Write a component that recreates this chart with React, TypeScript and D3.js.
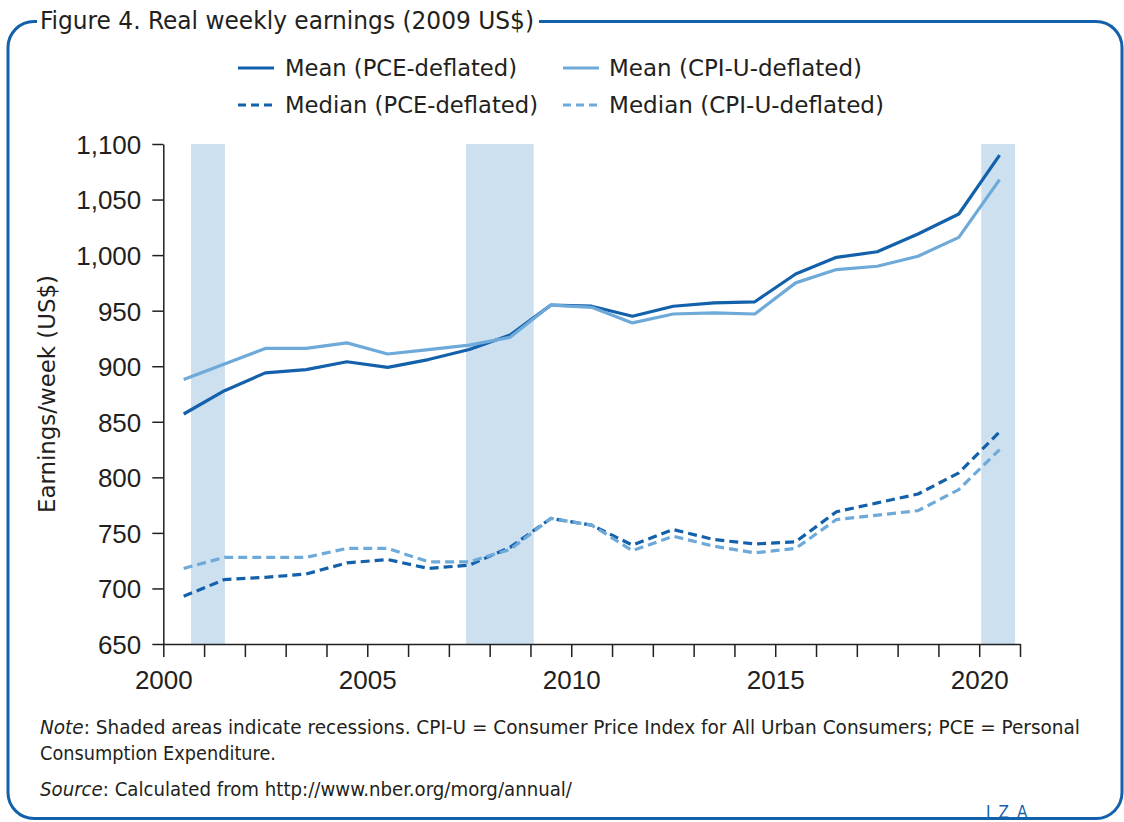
import React, { useEffect, useRef } from 'react';
import * as d3 from 'd3';

// yearly values, plotted at mid-year
const years = [2000, 2001, 2002, 2003, 2004, 2005, 2006, 2007, 2008, 2009, 2010, 2011, 2012, 2013, 2014, 2015, 2016, 2017, 2018, 2019, 2020];
const meanPCE = [857, 878, 894, 897, 904, 899, 906, 915, 928, 955, 954, 945, 954, 957, 958, 983, 998, 1003, 1019, 1037, 1090];
const meanCPI = [888, 902, 916, 916, 921, 911, 915, 919, 926, 955, 953, 939, 947, 948, 947, 975, 987, 990, 999, 1016, 1068];
const medianPCE = [693, 708, 710, 713, 723, 726, 718, 721, 737, 763, 757, 739, 753, 744, 740, 742, 769, 777, 785, 804, 841];
const medianCPI = [718, 728, 728, 728, 736, 736, 724, 724, 735, 763, 757, 734, 747, 738, 732, 736, 762, 766, 770, 789, 825];

// recession periods (start, end) in fractional years
const recessions = [[2000.68, 2001.51], [2007.42, 2009.08], [2020.05, 2020.88]];

const yTicks = [650, 700, 750, 800, 850, 900, 950, 1000, 1050, 1100];
const xTicks = d3.range(2000, 2022);
const xLabels = [2000, 2005, 2010, 2015, 2020];

const DARK = '#1360ab';
const LIGHT = '#6eaad9';
const SHADE = '#cce0ef';
const TEXT = '#231f20';
const NARROW = "'Liberation Sans Narrow', 'DejaVu Sans Condensed', 'Liberation Sans', sans-serif";
const SANS = "'Liberation Sans', Arial, sans-serif";

const seriesList = [
  { name: 'Mean (PCE-deflated)', values: meanPCE, color: DARK, dash: null },
  { name: 'Mean (CPI-U-deflated)', values: meanCPI, color: LIGHT, dash: null },
  { name: 'Median (PCE-deflated)', values: medianPCE, color: DARK, dash: '9,5' },
  { name: 'Median (CPI-U-deflated)', values: medianCPI, color: LIGHT, dash: '9,5' },
];

export default function App() {
  const svgRef = useRef<SVGSVGElement>(null);

  useEffect(() => {
    document.body.style.margin = '0';
    const svg = d3.select(svgRef.current);
    svg.selectAll('*').remove();

    const W = 1124, H = 822;
    const plot = { left: 163.3, right: 1020, top: 144, bottom: 644 };

    const x = d3.scaleLinear().domain([2000, 2021]).range([plot.left, plot.right]);
    const y = d3.scaleLinear().domain([650, 1100]).range([plot.bottom, plot.top]);

    svg.append('rect').attr('width', W).attr('height', H).attr('fill', '#fff');

    // frame with gap for the title
    svg.append('path')
      .attr('d', 'M 539 21.5 H 1096 A 26 26 0 0 1 1122 47.5 V 792 A 26 26 0 0 1 1096 818.5 H 34 A 26 26 0 0 1 8 792.5 V 47.5 A 26 26 0 0 1 34 21.5 H 37')
      .attr('fill', 'none')
      .attr('stroke', DARK)
      .attr('stroke-width', 3);

    svg.append('text')
      .attr('x', 40).attr('y', 29)
      .attr('font-family', NARROW).attr('font-size', 25).attr('fill', TEXT)
      .attr('textLength', 494).attr('lengthAdjust', 'spacingAndGlyphs')
      .text('Figure 4. Real weekly earnings (2009 US$)');

    // recession shading
    svg.append('g').selectAll('rect')
      .data(recessions)
      .enter().append('rect')
      .attr('x', d => x(d[0]))
      .attr('width', d => x(d[1]) - x(d[0]))
      .attr('y', plot.top)
      .attr('height', plot.bottom - plot.top)
      .attr('fill', SHADE);

    // axes
    const xAxis = svg.append('g')
      .attr('transform', `translate(0, ${plot.bottom})`)
      .call(d3.axisBottom(x).tickValues(xTicks).tickSize(13).tickSizeOuter(0)
        .tickFormat(d => (xLabels.includes(d as number) ? String(d) : '')));
    xAxis.selectAll('text')
      .attr('y', 45).attr('dy', 0)
      .attr('font-family', SANS).attr('font-size', 26).attr('fill', TEXT);

    const yAxis = svg.append('g')
      .attr('transform', `translate(${plot.left}, 0)`)
      .call(d3.axisLeft(y).tickValues(yTicks).tickSize(11).tickSizeOuter(0)
        .tickFormat(d3.format(',')));
    yAxis.selectAll('text')
      .attr('x', -22).attr('dy', '0.36em')
      .attr('font-family', SANS).attr('font-size', 26).attr('fill', TEXT);

    [xAxis, yAxis].forEach(a => {
      a.select('.domain').attr('stroke', TEXT).attr('stroke-width', 1.5);
      a.selectAll('.tick line').attr('stroke', TEXT).attr('stroke-width', 1.5);
    });

    svg.append('text')
      .attr('transform', 'translate(55, 394) rotate(-90)')
      .attr('text-anchor', 'middle')
      .attr('font-family', NARROW).attr('font-size', 23).attr('fill', TEXT)
      .attr('textLength', 238).attr('lengthAdjust', 'spacingAndGlyphs')
      .text('Earnings/week (US$)');

    // lines
    const line = d3.line<number>()
      .x((_, i) => x(years[i] + 0.5))
      .y(d => y(d));

    seriesList.forEach(s => {
      svg.append('path')
        .datum(s.values)
        .attr('d', line)
        .attr('fill', 'none')
        .attr('stroke', s.color)
        .attr('stroke-width', 3.2)
        .attr('stroke-dasharray', s.dash)
        .attr('stroke-linejoin', 'round');
    });

    // legend
    const legendPos = [
      { lx: 238, tx: 285, y: 68, w: 232 },
      { lx: 563, tx: 609, y: 68, w: 253 },
      { lx: 238, tx: 285, y: 105, w: 253 },
      { lx: 563, tx: 609, y: 105, w: 275 },
    ];
    seriesList.forEach((s, i) => {
      const p = legendPos[i];
      svg.append('line')
        .attr('x1', p.lx).attr('x2', p.lx + 36)
        .attr('y1', p.y).attr('y2', p.y)
        .attr('stroke', s.color).attr('stroke-width', 3)
        .attr('stroke-dasharray', s.dash ? '8,5' : null);
      svg.append('text')
        .attr('x', p.tx).attr('y', p.y + 8)
        .attr('font-family', NARROW).attr('font-size', 23).attr('fill', TEXT)
        .attr('textLength', p.w).attr('lengthAdjust', 'spacingAndGlyphs')
        .text(s.name);
    });

    // notes
    const note1 = svg.append('text')
      .attr('x', 40).attr('y', 734)
      .attr('font-family', NARROW).attr('font-size', 19).attr('fill', TEXT)
      .attr('textLength', 1040).attr('lengthAdjust', 'spacingAndGlyphs');
    note1.append('tspan').attr('font-style', 'italic').text('Note');
    note1.append('tspan').text(': Shaded areas indicate recessions. CPI-U = Consumer Price Index for All Urban Consumers; PCE = Personal');

    svg.append('text')
      .attr('x', 40).attr('y', 760)
      .attr('font-family', NARROW).attr('font-size', 19).attr('fill', TEXT)
      .attr('textLength', 236).attr('lengthAdjust', 'spacingAndGlyphs')
      .text('Consumption Expenditure.');

    const src = svg.append('text')
      .attr('x', 40).attr('y', 796)
      .attr('font-family', NARROW).attr('font-size', 19).attr('fill', TEXT)
      .attr('textLength', 532).attr('lengthAdjust', 'spacingAndGlyphs');
    src.append('tspan').attr('font-style', 'italic').text('Source');
    src.append('tspan').text(': Calculated from http://www.nber.org/morg/annual/');

    svg.append('text')
      .attr('x', 986).attr('y', 818)
      .attr('font-family', NARROW).attr('font-size', 17).attr('fill', DARK)
      .attr('letter-spacing', 8)
      .text('IZA');
  }, []);

  return (
    <svg
      ref={svgRef}
      width={1124}
      height={822}
      style={{ position: 'absolute', left: 0, top: 0, display: 'block' }}
    />
  );
}
